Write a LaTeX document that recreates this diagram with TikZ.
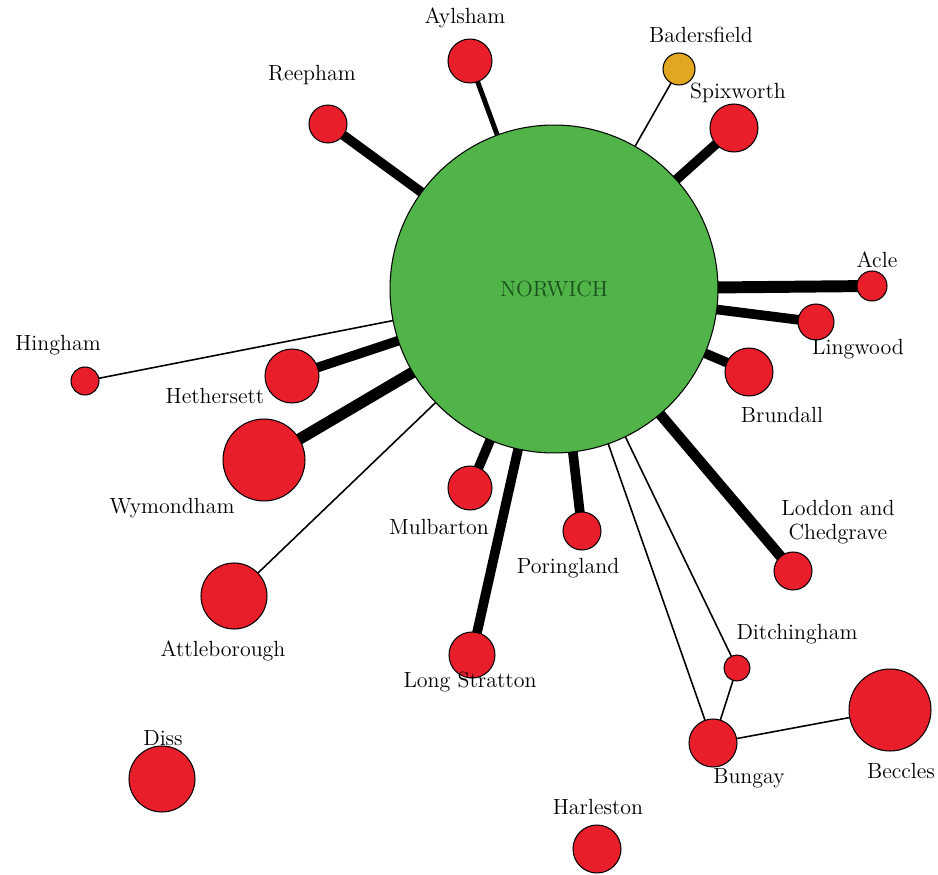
\documentclass[tikz,border=0pt]{standalone}
\usetikzlibrary{backgrounds}
\definecolor{townred}{RGB}{232,30,42}
\definecolor{citygreen}{RGB}{80,180,72}
\definecolor{airgold}{RGB}{226,166,32}
\definecolor{labelgreen}{RGB}{25,80,30}
\begin{document}
\begin{tikzpicture}[x=0.02cm, y=-0.02cm,
    town/.style={circle, draw=black, line width=0.6pt, fill=townred, inner sep=0pt, minimum size=#1*0.04cm},
    townlabel/.style={font=\fontsize{12.5}{14}\selectfont, inner sep=1pt, align=center},
    strong/.style={line width=5.5pt},
    weak/.style={line width=0.9pt}]
    \useasboundingbox (0,0) rectangle (938,875);
    % centre
    \node[circle, draw=black, line width=0.6pt, fill=citygreen, inner sep=0pt, minimum size=6.56cm,
          font=\fontsize{12.5}{14}\selectfont, text=labelgreen] (nor) at (554, 289) {NORWICH};
    % towns
    \node[town=22] (ayl) at (470, 61) {};
    \node[town=19] (ree) at (328, 124) {};
    \node[circle, draw=black, line width=0.6pt, fill=airgold, inner sep=0pt, minimum size=0.64cm] (bad) at (679, 69) {};
    \node[town=24] (spi) at (734, 128) {};
    \node[town=15] (acl) at (872, 286) {};
    \node[town=18] (lin) at (816, 322) {};
    \node[town=24] (bru) at (749, 372) {};
    \node[town=19] (lod) at (793, 571) {};
    \node[town=13] (dit) at (737, 668) {};
    \node[town=41] (bec) at (890, 710) {};
    \node[town=24] (bun) at (713, 743) {};
    \node[town=24] (har) at (597, 849) {};
    \node[town=19] (por) at (582, 531) {};
    \node[town=23] (lon) at (472, 655) {};
    \node[town=22] (mul) at (470, 488) {};
    \node[town=33] (att) at (234, 596) {};
    \node[town=33] (dis) at (162, 779) {};
    \node[town=41] (wym) at (264, 460) {};
    \node[town=27] (het) at (292, 376) {};
    \node[town=14] (hin) at (85, 381) {};
    % labels
    \node[townlabel] (tayl) at (465, 18) {Aylsham};
    \node[townlabel] (tree) at (312, 75) {Reepham};
    \node[townlabel] (tbad) at (701, 35) {Badersfield};
    \node[townlabel] (tspi) at (738, 93) {Spixworth};
    \node[townlabel] (tacl) at (877, 260) {Acle};
    \node[townlabel] (tlin) at (858, 349) {Lingwood};
    \node[townlabel] (tbru) at (782, 415) {Brundall};
    \node[townlabel] (tlod) at (838, 522) {Loddon and\\Chedgrave};
    \node[townlabel] (tdit) at (797, 634) {Ditchingham};
    \node[townlabel] (tbec) at (901, 771) {Beccles};
    \node[townlabel] (tbun) at (749, 778) {Bungay};
    \node[townlabel] (thar) at (598, 807) {Harleston};
    \node[townlabel] (tpor) at (568, 568) {Poringland};
    \node[townlabel] (tlon) at (470, 682) {Long Stratton};
    \node[townlabel] (tmul) at (439, 527) {Mulbarton};
    \node[townlabel] (tatt) at (223, 651) {Attleborough};
    \node[townlabel] (twym) at (172, 508) {Wymondham};
    \node[townlabel] (tdis) at (163, 738) {Diss};
    \node[townlabel] (thet) at (215, 396) {Hethersett};
    \node[townlabel] (thin) at (58, 345) {Hingham};
    % links
    \begin{scope}[on background layer]
        \draw[line width=2.8pt] (nor.center) -- (ayl.center);
        \draw[strong] (nor.center) -- (ree.center);
        \draw[weak] (nor.center) -- (bad.center);
        \draw[strong] (nor.center) -- (spi.center);
        \draw[line width=6.8pt] (nor.center) -- (acl.center);
        \draw[strong] (nor.center) -- (lin.center);
        \draw[strong] (nor.center) -- (bru.center);
        \draw[line width=6pt] (nor.center) -- (lod.center);
        \draw[weak] (nor.center) -- (dit.center);
        \draw[weak] (nor.center) -- (bun.center);
        \draw[weak] (dit.center) -- (bun.center);
        \draw[weak] (bun.center) -- (bec.center);
        \draw[strong] (nor.center) -- (por.center);
        \draw[strong] (nor.center) -- (lon.center);
        \draw[strong] (nor.center) -- (mul.center);
        \draw[weak] (nor.center) -- (att.center);
        \draw[line width=6.5pt] (nor.center) -- (wym.center);
        \draw[strong] (nor.center) -- (het.center);
        \draw[weak] (nor.center) -- (hin.center);
    \end{scope}
\end{tikzpicture}
\end{document}
